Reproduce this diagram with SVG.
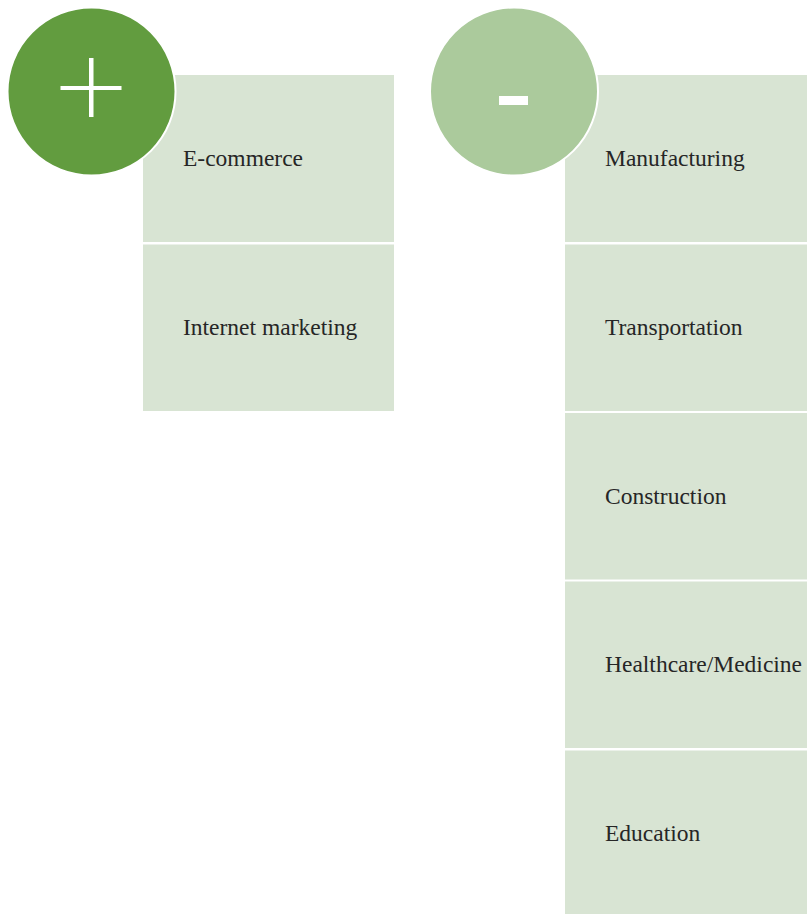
<svg xmlns="http://www.w3.org/2000/svg" width="807" height="914" viewBox="0 0 807 914">
<style>
.box{fill:#d8e4d3}
.lbl{font-family:"Liberation Serif","Times New Roman",serif;font-size:23.5px;fill:#262626}
</style>
<rect x="0" y="0" width="807" height="914" fill="#ffffff"/>
<g id="connectors"></g>
<g id="plus-e-commerce">
<rect class="box" x="143" y="75" width="251" height="167"/>
<text class="lbl" x="183" y="166">E-commerce</text>
</g>
<g id="plus-internet-marketing">
<rect class="box" x="143" y="244.5" width="251" height="166.5"/>
<text class="lbl" x="183" y="335">Internet marketing</text>
</g>
<g id="plus-circle">
<circle cx="91.5" cy="91.5" r="84" fill="#629c3f" stroke="#ffffff" stroke-width="2"/>
<rect x="60.5" y="86" width="61" height="4" fill="#ffffff"/>
<rect x="89" y="58" width="4.5" height="59" fill="#ffffff"/>
</g>
<g id="minus-manufacturing">
<rect class="box" x="565" y="75" width="242" height="167"/>
<text class="lbl" x="605" y="166">Manufacturing</text>
</g>
<g id="minus-transportation">
<rect class="box" x="565" y="244.5" width="242" height="166.5"/>
<text class="lbl" x="605" y="335">Transportation</text>
</g>
<g id="minus-construction">
<rect class="box" x="565" y="413" width="242" height="166.5"/>
<text class="lbl" x="605" y="503.5">Construction</text>
</g>
<g id="minus-healthcare">
<rect class="box" x="565" y="581.5" width="242" height="166.5"/>
<text class="lbl" x="605" y="672">Healthcare/Medicine</text>
</g>
<g id="minus-education">
<rect class="box" x="565" y="750.5" width="242" height="163.5"/>
<text class="lbl" x="605" y="841">Education</text>
</g>
<g id="minus-circle">
<circle cx="514" cy="91.5" r="84" fill="#abca9c" stroke="#ffffff" stroke-width="2"/>
<rect x="499" y="96" width="29" height="9" fill="#ffffff"/>
</g>
</svg>
